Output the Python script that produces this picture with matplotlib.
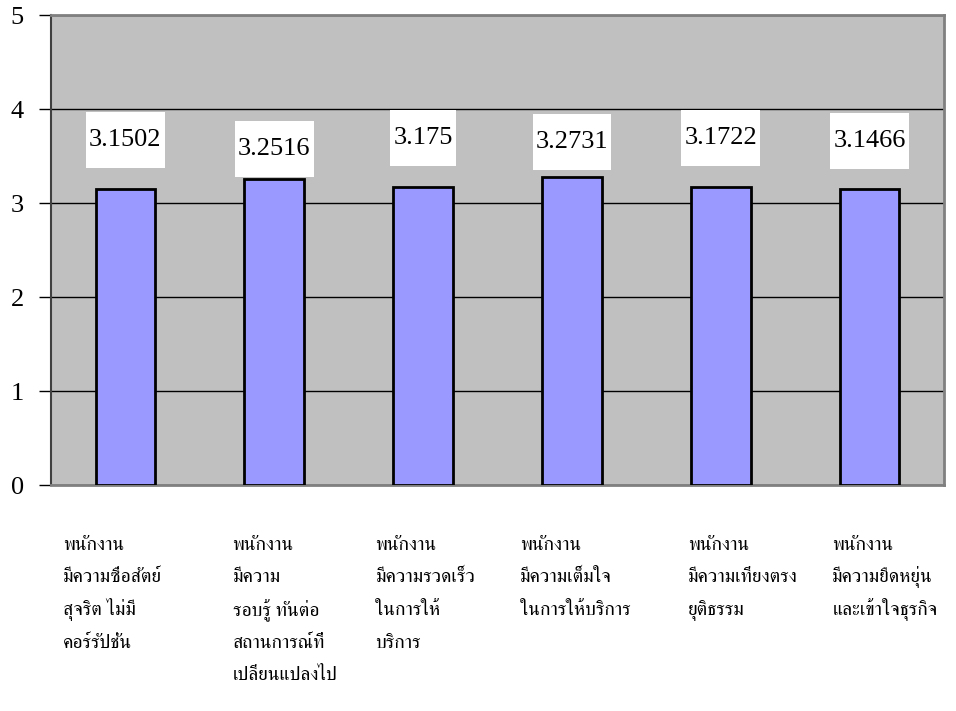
import matplotlib
matplotlib.use("Agg")
import matplotlib.pyplot as plt
from matplotlib import font_manager
from matplotlib.patches import Rectangle
from matplotlib.transforms import blended_transform_factory

# Chart data
categories = [
    ["พนักงาน", "มีความซื่อสัตย์", "สุจริต ไม่มี", "คอร์รัปชั่น"],
    ["พนักงาน", "มีความ", "รอบรู้ ทันต่อ", "สถานการณ์ที่", "เปลี่ยนแปลงไป"],
    ["พนักงาน", "มีความรวดเร็ว", "ในการให้", "บริการ"],
    ["พนักงาน", "มีความเต็มใจ", "ในการให้บริการ"],
    ["พนักงาน", "มีความเที่ยงตรง", "ยุติธรรม"],
    ["พนักงาน", "มีความยืดหยุ่น", "และเข้าใจธุรกิจ"],
]
values = [3.1502, 3.2516, 3.175, 3.2731, 3.1722, 3.1466]
value_labels = ["3.1502", "3.2516", "3.175", "3.2731", "3.1722", "3.1466"]
y_ticks = [0, 1, 2, 3, 4, 5]

# Layout: label heights (data units) and category label x offsets
label_y = [3.67, 3.57, 3.69, 3.65, 3.69, 3.66]
cat_x_offset = [-0.42, -0.28, -0.32, -0.35, -0.22, -0.25]

W, H = 956, 711
AX_L, AX_R, AX_T, AX_B = 51, 944, 15, 485


def find_thai_family():
    try:
        from fontTools.ttLib import TTFont
    except Exception:
        return None
    best = None
    for fe in font_manager.fontManager.ttflist:
        try:
            tt = TTFont(fe.fname, fontNumber=0, lazy=True)
            cmap = tt.getBestCmap() or {}
            if 0x0E1E in cmap and 0x0E01 in cmap:
                name = fe.name
                if "serif" in name.lower() and "sans" not in name.lower():
                    return name
                if best is None:
                    best = name
        except Exception:
            continue
    return best


thai = find_thai_family()
families = ["Liberation Serif"] + ([thai] if thai else []) + ["DejaVu Sans"]
plt.rcParams["font.family"] = families

fig = plt.figure(figsize=(W / 100, H / 100), dpi=100)
ax = fig.add_axes([AX_L / W, 1 - AX_B / H, (AX_R - AX_L) / W, (AX_B - AX_T) / H])
ax.set_facecolor("#C0C0C0")

x = list(range(len(values)))
ax.bar(x, values, width=0.4, color="#9999FF", edgecolor="black", linewidth=2, zorder=3)

ax.set_xlim(-0.5, len(values) - 0.5)
ax.set_ylim(0, 5)
ax.set_yticks(y_ticks)
ax.set_yticklabels([str(t) for t in y_ticks], fontsize=19)
ax.tick_params(axis="y", length=9, width=1, color="black", pad=10.5)
ax.set_xticks([])
ax.yaxis.grid(True, color="black", linewidth=1)
ax.set_axisbelow(True)

for side in ["top", "right", "bottom"]:
    ax.spines[side].set_color("#808080")
    ax.spines[side].set_linewidth(2)
ax.spines["left"].set_color("#404040")
ax.spines["left"].set_linewidth(1.5)

# Value labels on white boxes
texts = []
for xi, ly, txt in zip(x, label_y, value_labels):
    t = ax.text(xi, ly, txt, ha="center", va="center", fontsize=19, zorder=5)
    texts.append((t, xi, ly))

fig.canvas.draw()
renderer = fig.canvas.get_renderer()
inv = ax.transData.inverted()
for t, xi, ly in texts:
    bb = t.get_window_extent(renderer)
    cy = ax.transData.transform((xi, ly))[1]
    (dx0, dy0) = inv.transform((bb.x0 - 3, cy - 28))
    (dx1, dy1) = inv.transform((bb.x1 + 3, cy + 28))
    ax.add_patch(Rectangle((dx0, dy0), dx1 - dx0, dy1 - dy0,
                           facecolor="white", edgecolor="none", zorder=4))

# Category labels, one line at a time for even spacing
trans = blended_transform_factory(ax.transData, ax.transAxes)
first_baseline = 550
line_step = 32.5
for xi, off, lines in zip(x, cat_x_offset, categories):
    for k, line in enumerate(lines):
        py = first_baseline + k * line_step
        ay = (AX_B - py) / (AX_B - AX_T)
        ax.text(xi + off, ay, line, ha="left", va="baseline", fontsize=14,
                transform=trans, clip_on=False)

fig.savefig("out.png", dpi=100)
